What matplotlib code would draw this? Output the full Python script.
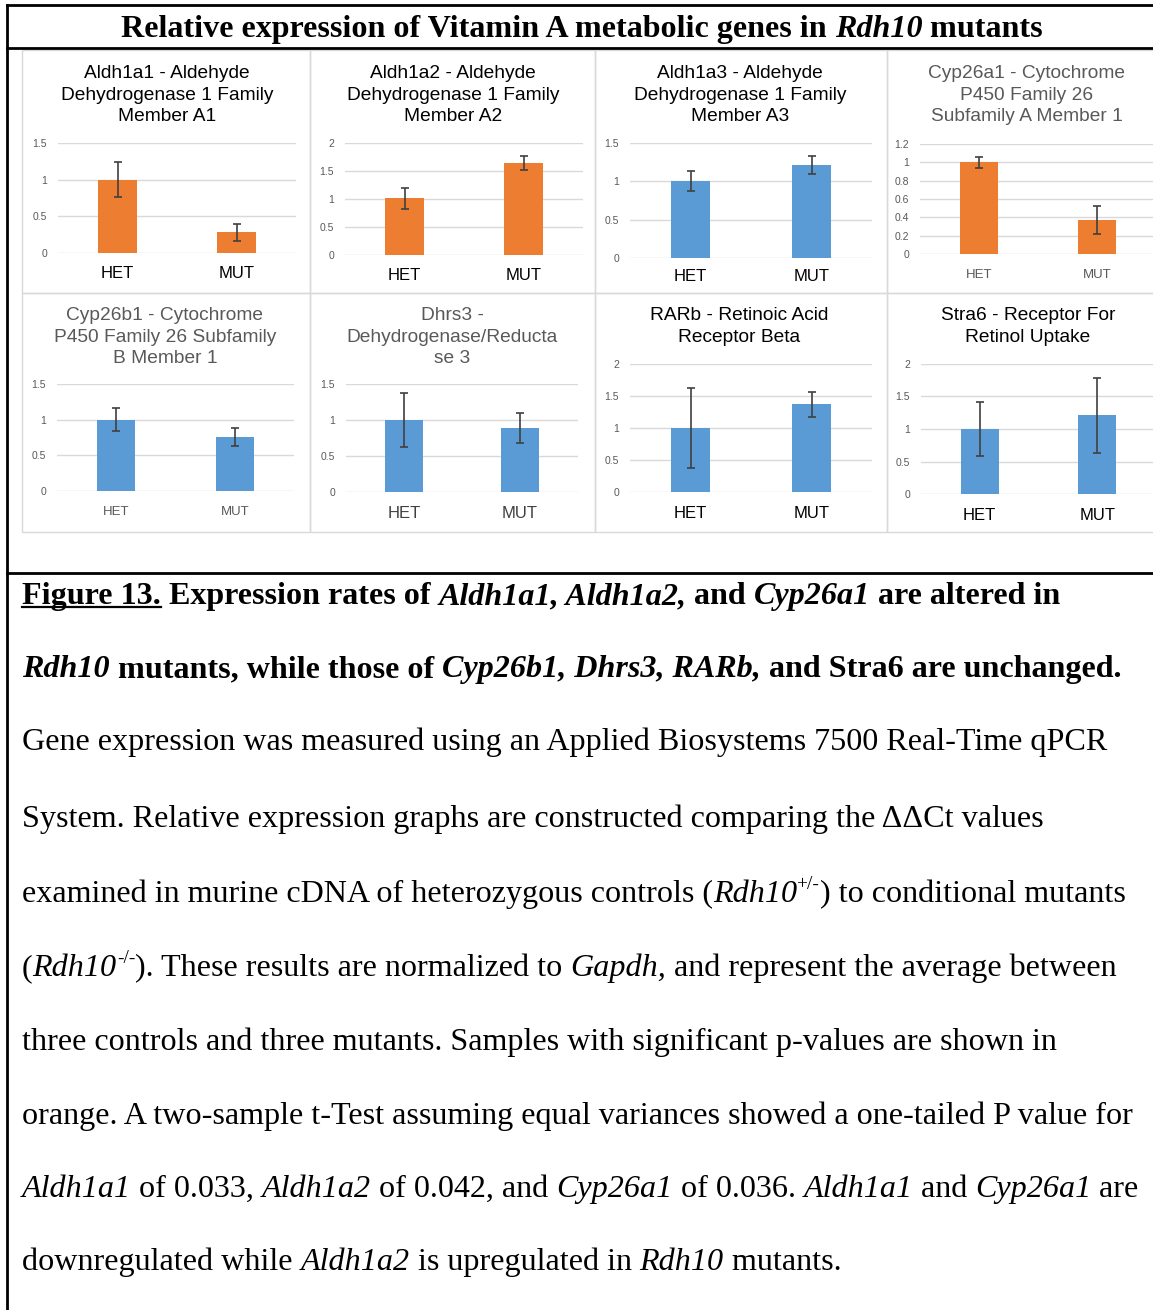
import matplotlib
matplotlib.use('Agg')
import matplotlib.pyplot as plt
from matplotlib.lines import Line2D
from matplotlib.patches import Rectangle

W, H = 1153, 1310

# ---- data ----
titles = ['Aldh1a1 - Aldehyde\nDehydrogenase 1 Family\nMember A1',
          'Aldh1a2 - Aldehyde\nDehydrogenase 1 Family\nMember A2',
          'Aldh1a3 - Aldehyde\nDehydrogenase 1 Family\nMember A3',
          'Cyp26a1 - Cytochrome\nP450 Family 26\nSubfamily A Member 1',
          'Cyp26b1 - Cytochrome\nP450 Family 26 Subfamily\nB Member 1',
          'Dhrs3 -\nDehydrogenase/Reducta\nse 3',
          'RARb - Retinoic Acid\nReceptor Beta',
          'Stra6 - Receptor For\nRetinol Uptake']
groups = ['HET', 'MUT']
het_mean = [1.0, 1.01, 1.0, 1.0, 1.0, 1.0, 1.0, 1.0]
mut_mean = [0.28, 1.64, 1.21, 0.37, 0.76, 0.89, 1.37, 1.21]
het_err = [0.24, 0.18, 0.13, 0.06, 0.16, 0.37, 0.63, 0.41]
mut_err = [0.11, 0.12, 0.115, 0.15, 0.13, 0.21, 0.20, 0.58]
significant = [True, True, False, True, False, False, False, False]
y_ticks = [[0, 0.5, 1, 1.5], [0, 0.5, 1, 1.5, 2], [0, 0.5, 1, 1.5],
           [0, 0.2, 0.4, 0.6, 0.8, 1, 1.2], [0, 0.5, 1, 1.5],
           [0, 0.5, 1, 1.5], [0, 0.5, 1, 1.5, 2], [0, 0.5, 1, 1.5, 2]]

ORANGE = '#ED7D31'
BLUE = '#5B9BD5'
SERIF = 'Liberation Serif'
SANS = 'Liberation Sans'

# panel layout in pixels: (grid left, grid right, y of 0, y of top tick)
axes_px = [(58, 296, 253, 143), (345, 583, 255, 143), (630, 872, 258, 143),
           (920, 1156, 254, 144), (57, 294, 491, 384), (346, 578, 492, 384),
           (630, 872, 492, 364), (921, 1156, 494, 364)]
title_px = [(167, 78), (453, 78), (740, 78), (1027, 78),
            (165, 320), (452, 320), (739, 320), (1028, 320)]
title_col = ['black', 'black', 'black', '#595959', '#595959', '#595959', 'black', 'black']
lab_col = ['black', 'black', 'black', '#595959', '#595959', '#404040', 'black', 'black']
lab_size = [12, 12, 12, 9.5, 9.5, 12, 12, 12]
lab_pad = [9.5, 9, 8, 11, 11, 10, 10, 10]
frames = [(22, 50, 310, 293), (310, 50, 595, 293), (595, 50, 887, 293), (887, 50, 1160, 293),
          (22, 293, 310, 532), (310, 293, 595, 532), (595, 293, 887, 532), (887, 293, 1160, 532)]

fig = plt.figure(figsize=(W / 100, H / 100), dpi=100)
renderer = fig.canvas.get_renderer()


def fx(x):
    return x / W


def fy(y):
    return 1 - y / H


def hline(x0, x1, y, lw=2, color='black'):
    fig.add_artist(Line2D([fx(x0), fx(x1)], [fy(y), fy(y)], lw=lw, color=color,
                          transform=fig.transFigure))


# outer frame lines
hline(7, W, 5)
hline(7, W, 48)
hline(7, W, 573)
fig.add_artist(Line2D([fx(7), fx(7)], [fy(5), fy(H)], lw=2, color='black',
                      transform=fig.transFigure))

for (x0, y0, x1, y1) in frames:
    fig.add_artist(Rectangle((fx(x0), fy(y1)), (x1 - x0) / W, (y1 - y0) / H,
                             fill=False, ec='#D9D9D9', lw=1, transform=fig.transFigure))

for i in range(8):
    l, r, yb, yt = axes_px[i]
    ax = fig.add_axes([fx(l), fy(yb), (r - l) / W, (yb - yt) / H])
    c = ORANGE if significant[i] else BLUE
    ax.bar([0, 1], [het_mean[i], mut_mean[i]], width=0.32, color=c, zorder=2,
           yerr=[het_err[i], mut_err[i]],
           error_kw=dict(ecolor='#404040', elinewidth=1.2, capsize=3.2, capthick=1.2, zorder=3))
    ax.set_xlim(-0.5, 1.5)
    ax.set_ylim(0, y_ticks[i][-1])
    ax.set_yticks(y_ticks[i], ['%g' % v for v in y_ticks[i]])
    ax.set_xticks([0, 1], groups)
    ax.yaxis.grid(True, color='#D9D9D9', lw=1)
    ax.set_axisbelow(True)
    for s in ax.spines.values():
        s.set_visible(False)
    ax.patch.set_alpha(0)
    ax.tick_params(axis='y', length=0, pad=8, labelsize=7.5, labelcolor='#595959')
    ax.tick_params(axis='x', length=0, pad=lab_pad[i], labelsize=lab_size[i],
                   labelcolor=lab_col[i])
    for t in ax.get_xticklabels() + ax.get_yticklabels():
        t.set_fontfamily(SANS)
    cx, by = title_px[i]
    for k, line in enumerate(titles[i].split('\n')):
        fig.text(fx(cx), fy(by + 21.5 * k), line, ha='center', va='baseline', fontsize=13.8,
                 family=SANS, color=title_col[i])

STYLES = {'r': dict(weight='normal', style='normal'),
          'i': dict(weight='normal', style='italic'),
          'b': dict(weight='bold', style='normal'),
          'bi': dict(weight='bold', style='italic'),
          'bu': dict(weight='bold', style='normal'),
          'sup': dict(weight='normal', style='normal')}


def width_px(s, **kw):
    t = fig.text(0, 0, s + '|', **kw)
    w1 = t.get_window_extent(renderer).width
    t.set_text('|')
    w2 = t.get_window_extent(renderer).width
    t.remove()
    return w1 - w2


def draw_runs(x, y, runs, size):
    total = 0
    for s, st in runs:
        sz = size * 0.6 if st == 'sup' else size
        kw = dict(family=SERIF, fontsize=sz, **STYLES[st])
        dy = size * 0.42 * 100 / 72 if st == 'sup' else 0
        fig.text(fx(x + total), fy(y - dy), s, va='baseline', ha='left', **kw)
        w = width_px(s, **kw)
        if st == 'bu':
            hline(x + total, x + total + w, y + 3, lw=1.6)
        total += w
    return total


def runs_width(runs, size):
    total = 0
    for s, st in runs:
        sz = size * 0.6 if st == 'sup' else size
        total += width_px(s, family=SERIF, fontsize=sz, **STYLES[st])
    return total


head = [('Relative expression of Vitamin A metabolic genes in ', 'b'), ('Rdh10', 'bi'),
        (' mutants', 'b')]
hw = runs_width(head, 23.1)
draw_runs(582 - hw / 2, 37, head, 23.1)

caption = [
    [('Figure 13.', 'bu'), (' Expression rates of ', 'b'), ('Aldh1a1, Aldh1a2,', 'bi'),
     (' and ', 'b'), ('Cyp26a1', 'bi'), (' are altered in', 'b')],
    [('Rdh10', 'bi'), (' mutants, while those of ', 'b'), ('Cyp26b1, Dhrs3, RARb,', 'bi'),
     (' and Stra6 are unchanged.', 'b')],
    [('Gene expression was measured using an Applied Biosystems 7500 Real-Time qPCR', 'r')],
    [('System. Relative expression graphs are constructed comparing the \u0394\u0394Ct values', 'r')],
    [('examined in murine cDNA of heterozygous controls (', 'r'), ('Rdh10', 'i'), ('+/-', 'sup'),
     (') to conditional mutants', 'r')],
    [('(', 'r'), ('Rdh10', 'i'), ('-/-', 'sup'), ('). These results are normalized to ', 'r'),
     ('Gapdh,', 'i'), (' and represent the average between', 'r')],
    [('three controls and three mutants. Samples with significant p-values are shown in', 'r')],
    [('orange. A two-sample t-Test assuming equal variances showed a one-tailed P value for', 'r')],
    [('Aldh1a1', 'i'), (' of 0.033, ', 'r'), ('Aldh1a2', 'i'), (' of 0.042, and ', 'r'),
     ('Cyp26a1', 'i'), (' of 0.036. ', 'r'), ('Aldh1a1', 'i'), (' and ', 'r'),
     ('Cyp26a1', 'i'), (' are', 'r')],
    [('downregulated while ', 'r'), ('Aldh1a2', 'i'), (' is upregulated in ', 'r'),
     ('Rdh10', 'i'), (' mutants.', 'r')],
]
baselines = [604, 677, 750, 827, 902, 976, 1050, 1124, 1197, 1270]
for runs, yb in zip(caption, baselines):
    draw_runs(22, yb, runs, 23.1)

fig.savefig('out.png', dpi=100)
